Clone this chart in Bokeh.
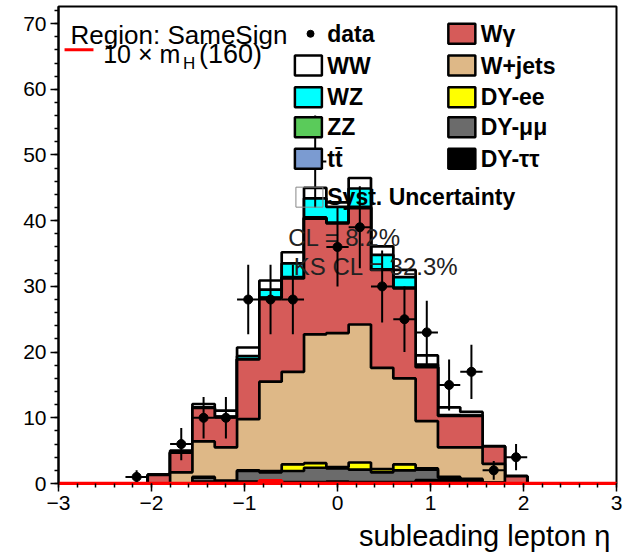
import numpy as np
from bokeh.plotting import figure
from bokeh.models import Range1d, FixedTicker, Title
from bokeh.core.properties import value
from bokeh.embed import file_html
from bokeh.resources import INLINE

# 25 bins of subleading-lepton eta between -3 and 3
eta_edges = np.linspace(-3.0, 3.0, 26)
eta_centers = 0.5 * (eta_edges[:-1] + eta_edges[1:])
half_width = 0.5 * (eta_edges[1] - eta_edges[0])

# expected yields per bin (bottom of the stack first)
dy_tautau = [0, 0, 0, 0, 0, 0, 0.3, 0.1, 0.3, 0.2, 0.2, 0.2, 0.3, 0.2, 0.2, 0.2, 0.5, 0.6, 0.15, 0.1, 0, 0, 0, 0, 0]
dy_mumu   = [0, 0, 0, 0, 0, 0, 0.6, 0.3, 1.6, 1.5, 1.7, 2.2, 2.0, 1.9, 1.5, 1.8, 1.6, 0.3, 0.2, 0, 0, 0, 0, 0, 0]
dy_ee     = [0, 0, 0, 0, 0, 0, 0.1, 0, 0.1, 0.2, 1.0, 0.7, 0.2, 1.1, 0.5, 0.9, 0.2, 0.1, 0.35, 0, 0, 0, 0, 0, 0]
w_jets    = [0, 0, 0, 0, 0, 1.7, 5.4, 5.1, 7.8, 13.6, 14.1, 19.6, 20.4, 21.0, 15.4, 13.1, 7.2, 4.5, 4.8, 2.9, 0, 0, 0, 0, 0]
w_gamma   = [0, 0, 0, 0, 1.3, 3.0, 5.1, 4.6, 9.1, 12.7, 14.2, 17.6, 16.7, 17.7, 14.9, 13.7, 8.2, 4.8, 4.8, 2.65, 1.1, 0, 0, 0, 0]
ttbar     = [0, 0, 0, 0, 0, 0, 0, 0, 0, 0, 0.1, 0.1, 0, 0.1, 0, 0, 0, 0, 0, 0, 0, 0, 0, 0, 0]
zz        = [0, 0, 0, 0, 0, 0, 0, 0, 0, 0.1, 0.1, 0.1, 0.1, 0.1, 0.1, 0.1, 0, 0, 0, 0, 0, 0, 0, 0, 0]
wz        = [0, 0, 0, 0, 0, 0, 0.1, 0.1, 0.5, 1.2, 2.1, 2.9, 2.4, 2.8, 2.2, 1.6, 0.4, 0.1, 0, 0, 0, 0, 0, 0, 0]
ww        = [0, 0, 0, 0, 0.05, 0.3, 0.5, 0.9, 1.3, 1.4, 1.7, 1.6, 0.7, 1.6, 1.3, 1.1, 1.4, 1.2, 0.6, 0.05, 0.05, 0, 0, 0, 0]

# observed events per bin
data_counts = [0, 0, 0, 1, 0, 6, 10, 10, 28, 28, 28, 49, 36, 39, 30, 25, 23, 15, 17, 2, 4, 0, 0, 0, 0]

# Higgs signal (mH = 160) scaled by 10
signal_x10 = [0, 0, 0, 0, 0, 0, 0, 0, 0, 0.4, 0, 0, 0, 0, 0, 0, 0, 0, 0, 0, 0, 0, 0, 0, 0]

stack = [
    ("DY-ττ", dy_tautau, "#000000"),
    ("DY-μμ", dy_mumu, "#6b6b6b"),
    ("DY-ee", dy_ee, "#ffff00"),
    ("W+jets", w_jets, "#deb887"),
    ("Wγ", w_gamma, "#d65b59"),
    ("tt̄", ttbar, "#7b9bd1"),
    ("ZZ", zz, "#5acb5a"),
    ("WZ", wz, "#00ffff"),
    ("WW", ww, "#ffffff"),
]

FONT = value("Liberation Sans")

p = figure(width=639, height=560, x_range=Range1d(-3, 3), y_range=Range1d(0, 72.6),
           output_backend="svg", toolbar_location=None,
           min_border_left=58, min_border_right=23, min_border_top=6, min_border_bottom=77)
p.xgrid.visible = False
p.ygrid.visible = False
p.outline_line_color = "black"
p.outline_line_width = 2
p.background_fill_color = "white"
p.border_fill_color = "white"

# stacked histograms: draw the full cumulative sum first, then each lower level on top
cumulative = []
running = np.zeros(25)
for name, vals, color in stack:
    running = running + np.array(vals, dtype=float)
    cumulative.append((name, running.copy(), color))

for name, cum, color in reversed(cumulative):
    ys = list(cum) + [cum[-1]]
    p.varea_step(x=list(eta_edges), y1=[0.0] * 26, y2=ys, step_mode="after", fill_color=color)
    p.step(x=list(eta_edges), y=ys, mode="after", line_color="black", line_width=2.7)

# signal
sig = list(signal_x10) + [signal_x10[-1]]
p.step(x=list(eta_edges), y=sig, mode="after", line_color="red", line_width=3.5)

# fit-quality texts
p.text(x=[-0.53], y=[37.4], text=["CL = 8.2%"], text_font=FONT, text_font_size="24px",
       text_baseline="middle", text_color="#222222")
p.text(x=[-0.47], y=[33.0], text=["KS CL = 32.3%"], text_font=FONT, text_font_size="24px",
       text_baseline="middle", text_color="#222222")

# data with Poisson error bars
dc = np.array(data_counts, dtype=float)
mask = dc > 0
xc = eta_centers[mask]
yc = dc[mask]
err = np.sqrt(yc)
p.segment(x0=xc, y0=yc - err, x1=xc, y1=yc + err, line_color="black", line_width=2)
p.segment(x0=xc - half_width, y0=yc, x1=xc + half_width, y1=yc, line_color="black", line_width=2)
p.scatter(x=xc, y=yc, size=9, marker="circle", color="black")

# legend (drawn over the data, as in the original layout)
p.text(x=[-2.87], y=[68.2], text=["Region: SameSign"], text_font=FONT, text_font_size="26px",
       text_baseline="alphabetic")
p.segment(x0=[-2.935], y0=[66.0], x1=[-2.624], y1=[66.0], line_color="red", line_width=3)
p.text(x=[-2.52], y=[65.3], text=["10 × m"], text_font=FONT, text_font_size="25px", text_baseline="alphabetic")
p.text(x=[-1.66], y=[64.0], text=["H"], text_font=FONT, text_font_size="17px", text_baseline="alphabetic")
p.text(x=[-1.49], y=[65.3], text=["(160)"], text_font=FONT, text_font_size="27px", text_baseline="alphabetic")

row_y = [68.45, 63.62, 58.80, 54.23, 49.42]
col1 = [("WW", "#ffffff"), ("WZ", "#00ffff"), ("ZZ", "#5acb5a"), ("tt̄", "#7b9bd1")]
col2 = [("Wγ", "#d65b59"), ("W+jets", "#deb887"), ("DY-ee", "#ffff00"), ("DY-μμ", "#6b6b6b"), ("DY-ττ", "#000000")]

p.scatter(x=[-0.29], y=[row_y[0]], size=7, marker="circle", color="black")
p.text(x=[-0.11], y=[row_y[0]], text=["data"], text_font=FONT, text_font_style="bold",
       text_font_size="23px", text_baseline="middle")

p.rect(x=[-0.313] * 4, y=row_y[1:], width=27, height=20, width_units="screen", height_units="screen",
       fill_color=[c for _, c in col1], line_color="black", line_width=2.5)
p.text(x=[-0.11] * 4, y=row_y[1:], text=[t for t, _ in col1], text_font=FONT, text_font_style="bold",
       text_font_size="23px", text_baseline="middle")

p.rect(x=[1.337] * 5, y=row_y, width=27, height=20, width_units="screen", height_units="screen",
       fill_color=[c for _, c in col2], line_color="black", line_width=2.5)
p.text(x=[1.54] * 5, y=row_y, text=[t for t, _ in col2], text_font=FONT, text_font_style="bold",
       text_font_size="23px", text_baseline="middle")

p.rect(x=[-0.302], y=[43.58], width=27, height=20, width_units="screen", height_units="screen",
       fill_color=None, line_color="#888888", line_width=1)
p.text(x=[-0.11], y=[43.55], text=["Syst. Uncertainty"], text_font=FONT, text_font_style="bold",
       text_font_size="23px", text_baseline="middle")

# axes
for ax in (p.xaxis[0], p.yaxis[0]):
    ax.major_tick_out = 8
    ax.major_tick_in = 0
    ax.minor_tick_out = 4
    ax.minor_tick_in = 0
    ax.major_tick_line_width = 1.5
    ax.minor_tick_line_width = 1.5
    ax.axis_line_width = 2
    ax.major_label_text_font = "Liberation Sans"
    ax.major_label_text_font_size = "21px"
    ax.major_label_text_color = "black"
    ax.major_label_standoff = 4

p.xaxis.ticker = FixedTicker(ticks=[-3, -2, -1, 0, 1, 2, 3],
                             minor_ticks=[round(-3 + 0.2 * k, 2) for k in range(31)])
p.yaxis.ticker = FixedTicker(ticks=[0, 10, 20, 30, 40, 50, 60, 70],
                             minor_ticks=list(range(0, 73, 2)))
p.xaxis.axis_line_color = "red"
p.xaxis.axis_line_width = 3

# x-axis title, right-aligned under the axis
p.add_layout(Title(text="subleading lepton η", align="right", offset=6, standoff=11,
                   text_font="Liberation Sans", text_font_size="29px", text_font_style="normal",
                   text_color="black"), "below")

open("out.html", "w").write(file_html(p, INLINE))
